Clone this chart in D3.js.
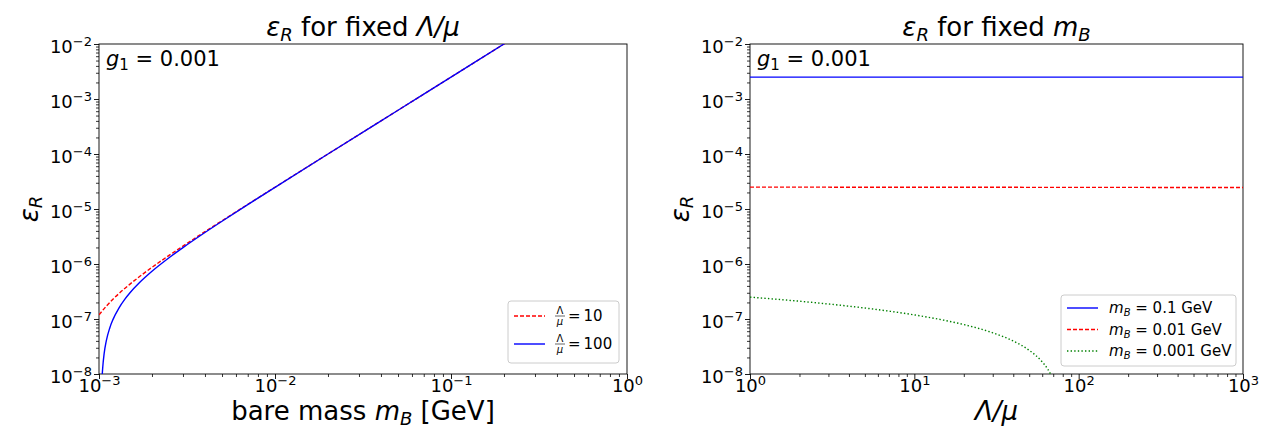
<!DOCTYPE html>
<html>
<head>
<meta charset="utf-8">
<script src="https://cdn.jsdelivr.net/npm/d3@7"></script>
<style>
body { margin: 0; background: #fff; }
svg text { font-family: "DejaVu Sans", sans-serif; fill: #000; }
</style>
</head>
<body>
<div id="chart"></div>
<script>
// Data
//= ================================
// left panel: eps_R vs bare mass m_B, for fixed Lambda/mu
var massRed = [0.001, 0.0011, 0.0012, 0.0013, 0.0015, 0.0017, 0.002, 0.0025, 0.003, 0.004, 0.005, 0.007, 0.01, 0.02, 0.05, 0.1, 0.2, 0.25];
var epsRed = [1.19e-7, 1.71e-7, 2.29e-7, 2.91e-7, 4.31e-7, 5.91e-7, 8.69e-7, 1.431e-6, 2.119e-6, 3.869e-6, 6.119e-6, 1.212e-5, 2.487e-5, 1e-4, 6.25e-4, 2.5e-3, 1e-2, 1.56e-2];

var massBlue = [0.00103, 0.00104, 0.00105, 0.00107, 0.0011, 0.00115, 0.0012, 0.0013, 0.0014, 0.0015, 0.0017, 0.002, 0.0025, 0.003, 0.004, 0.005, 0.007, 0.01, 0.02, 0.05, 0.1, 0.2, 0.25];
var epsBlue = [2.7e-9, 7.9e-9, 1.31e-8, 2.37e-8, 4.0e-8, 6.81e-8, 9.75e-8, 1.6e-7, 2.275e-7, 3.0e-7, 4.6e-7, 7.375e-7, 1.3e-6, 1.9875e-6, 3.7375e-6, 5.9875e-6, 1.1988e-5, 2.474e-5, 1e-4, 6.25e-4, 2.5e-3, 1e-2, 1.56e-2];

// right panel: eps_R vs Lambda/mu, for fixed m_B
var ratioFlat = [1, 1000];
var epsMB01 = [2.5e-3, 2.5e-3];
var epsMB001 = [2.5e-5, 2.46e-5];
var ratioGreen = [1, 2, 3, 5, 7, 10, 15, 20, 30, 40, 50, 60, 65, 70, 75];
var epsMB0001 = [2.5e-7, 2.105e-7, 1.874e-7, 1.583e-7, 1.391e-7, 1.1875e-7, 9.56e-8, 7.92e-8, 5.61e-8, 3.97e-8, 2.70e-8, 1.66e-8, 1.21e-8, 7.85e-9, 3.9e-9];

var yExponents = [-8, -7, -6, -5, -4, -3, -2];
var xLeftExponents = [-3, -2, -1, 0];
var xRightExponents = [0, 1, 2, 3];

// Setup
//= ================================
var svgWidth = 1276;
var svgHeight = 440;

var svg = d3.select("#chart")
    .append("svg")
    .attr("width", svgWidth)
    .attr("height", svgHeight);

var panelLeft = { x0: 99, x1: 627, y0: 44, y1: 374 };
var panelRight = { x0: 750, x1: 1243, y0: 44, y1: 374 };

function minorTicks(exps) {
    var out = [];
    for (var i = 0; i < exps.length - 1; i++) {
        for (var k = 2; k <= 9; k++) out.push(k * Math.pow(10, exps[i]));
    }
    return out;
}

// "10" with a superscript exponent
function powLabel(sel, e) {
    sel.text("");
    sel.append("tspan").text("10");
    sel.append("tspan")
        .attr("dy", -7)
        .attr("font-size", "13px")
        .text(e < 0 ? "\u2212" + Math.abs(e) : String(e));
}

function drawPanel(p, xExps, id) {
    var xScale = d3.scaleLog()
        .domain([Math.pow(10, xExps[0]), Math.pow(10, xExps[xExps.length - 1])])
        .range([p.x0, p.x1]);
    var yScale = d3.scaleLog()
        .domain([1e-8, 1e-2])
        .range([p.y1, p.y0]);

    var g = svg.append("g");

    svg.append("clipPath").attr("id", id)
        .append("rect")
        .attr("x", p.x0).attr("y", p.y0)
        .attr("width", p.x1 - p.x0).attr("height", p.y1 - p.y0);

    // minor ticks
    g.append("g")
        .attr("transform", `translate(0, ${p.y1})`)
        .call(d3.axisBottom(xScale).tickValues(minorTicks(xExps)).tickSize(3).tickFormat(""))
        .call(a => a.select(".domain").remove())
        .selectAll("line").attr("stroke", "#000").attr("stroke-width", 0.8);
    g.append("g")
        .attr("transform", `translate(${p.x0}, 0)`)
        .call(d3.axisLeft(yScale).tickValues(minorTicks(yExponents)).tickSize(3).tickFormat(""))
        .call(a => a.select(".domain").remove())
        .selectAll("line").attr("stroke", "#000").attr("stroke-width", 0.8);

    // major ticks
    var xAxis = g.append("g")
        .attr("transform", `translate(0, ${p.y1})`)
        .call(d3.axisBottom(xScale).tickValues(xExps.map(e => Math.pow(10, e))).tickSize(5).tickPadding(3));
    xAxis.select(".domain").remove();
    xAxis.selectAll("line").attr("stroke", "#000").attr("stroke-width", 0.9);
    xAxis.selectAll("text")
        .attr("font-size", "18px")
        .attr("dy", 10)
        .each(function (d) { powLabel(d3.select(this), Math.round(Math.log10(d))); });

    var yAxis = g.append("g")
        .attr("transform", `translate(${p.x0}, 0)`)
        .call(d3.axisLeft(yScale).tickValues(yExponents.map(e => Math.pow(10, e))).tickSize(5).tickPadding(2));
    yAxis.select(".domain").remove();
    yAxis.selectAll("line").attr("stroke", "#000").attr("stroke-width", 0.9);
    yAxis.selectAll("text")
        .attr("font-size", "18px")
        .attr("dy", 8)
        .each(function (d) { powLabel(d3.select(this), Math.round(Math.log10(d))); });

    // frame
    g.append("rect")
        .attr("x", p.x0).attr("y", p.y0)
        .attr("width", p.x1 - p.x0).attr("height", p.y1 - p.y0)
        .attr("fill", "none")
        .attr("stroke", "#000")
        .attr("stroke-width", 0.9);

    return { x: xScale, y: yScale, g: g };
}

function drawLine(panel, id, xs, ys, color, dash) {
    var pts = xs.map((x, i) => [x, ys[i]]);
    var line = d3.line()
        .x(d => panel.x(d[0]))
        .y(d => panel.y(d[1]))
        .curve(d3.curveMonotoneX);
    panel.g.append("path")
        .datum(pts)
        .attr("clip-path", `url(#${id})`)
        .attr("d", line)
        .attr("fill", "none")
        .attr("stroke", color)
        .attr("stroke-width", 1.4)
        .attr("stroke-dasharray", dash);
}

// Left panel
//= ================================
var left = drawPanel(panelLeft, xLeftExponents, "clipL");
drawLine(left, "clipL", massRed, epsRed, "#ff0000", "4,2");
drawLine(left, "clipL", massBlue, epsBlue, "#0000ff", null);

// Right panel
//= ================================
var right = drawPanel(panelRight, xRightExponents, "clipR");
drawLine(right, "clipR", ratioFlat, epsMB01, "#0000ff", null);
drawLine(right, "clipR", ratioFlat, epsMB001, "#ff0000", "4,2");
drawLine(right, "clipR", ratioGreen, epsMB0001, "#008000", "1.4,2.2");

// Titles
function epsR(t, size, shift) {
    t.append("tspan").attr("font-style", "italic").text("\u03b5");
    t.append("tspan").attr("font-style", "italic").attr("font-size", size).attr("dy", shift).text("R");
}

var t1 = svg.append("text")
    .attr("x", (panelLeft.x0 + panelLeft.x1) / 2)
    .attr("y", 36)
    .attr("text-anchor", "middle")
    .attr("font-size", "26px");
epsR(t1, "18px", 5);
t1.append("tspan").attr("dy", -5).text(" for fixed ");
t1.append("tspan").attr("font-style", "italic").text("\u039b/\u03bc");

var t2 = svg.append("text")
    .attr("x", (panelRight.x0 + panelRight.x1) / 2)
    .attr("y", 36)
    .attr("text-anchor", "middle")
    .attr("font-size", "26px");
epsR(t2, "18px", 5);
t2.append("tspan").attr("dy", -5).text(" for fixed ");
t2.append("tspan").attr("font-style", "italic").text("m");
t2.append("tspan").attr("font-style", "italic").attr("font-size", "18px").attr("dy", 5).text("B");

// Axis labels
var xl1 = svg.append("text")
    .attr("x", (panelLeft.x0 + panelLeft.x1) / 2)
    .attr("y", 420)
    .attr("text-anchor", "middle")
    .attr("font-size", "26px");
xl1.append("tspan").text("bare mass ");
xl1.append("tspan").attr("font-style", "italic").text("m");
xl1.append("tspan").attr("font-style", "italic").attr("font-size", "18px").attr("dy", 5).text("B");
xl1.append("tspan").attr("dy", -5).text(" [GeV]");

svg.append("text")
    .attr("x", (panelRight.x0 + panelRight.x1) / 2)
    .attr("y", 420)
    .attr("text-anchor", "middle")
    .attr("font-size", "26px")
    .attr("font-style", "italic")
    .text("\u039b/\u03bc");

[[38, 209], [689, 209]].forEach(function (pos) {
    var yl = svg.append("text")
        .attr("transform", `translate(${pos[0]}, ${pos[1]}) rotate(-90)`)
        .attr("text-anchor", "middle")
        .attr("font-size", "26px");
    epsR(yl, "18px", 4);
});

// g1 annotation
[[106, 66], [757, 66]].forEach(function (pos) {
    var gt = svg.append("text")
        .attr("x", pos[0]).attr("y", pos[1])
        .attr("font-size", "21px");
    gt.append("tspan").attr("font-style", "italic").text("g");
    gt.append("tspan").attr("font-size", "15px").attr("dy", 4).text("1");
    gt.append("tspan").attr("dy", -4).text(" = 0.001");
});

// Legends
//= ================================
function legendBox(x, y, w, h) {
    svg.append("rect")
        .attr("x", x).attr("y", y)
        .attr("width", w).attr("height", h)
        .attr("rx", 3)
        .attr("fill", "#fff")
        .attr("fill-opacity", 0.8)
        .attr("stroke", "#cccccc")
        .attr("stroke-width", 1);
}

function legendLine(x, y, color, dash) {
    svg.append("line")
        .attr("x1", x).attr("x2", x + 31)
        .attr("y1", y).attr("y2", y)
        .attr("stroke", color)
        .attr("stroke-width", 1.4)
        .attr("stroke-dasharray", dash);
}

var leftLegend = [["10", "#ff0000", "4,2"], ["100", "#0000ff", null]];
legendBox(508, 301, 111, 62);
leftLegend.forEach(function (d, i) {
    var y = 316 + i * 28;
    legendLine(514, y, d[1], d[2]);
    svg.append("text").attr("x", 560).attr("y", y - 2)
        .attr("text-anchor", "middle").attr("font-size", "10px").text("\u039b");
    svg.append("line").attr("x1", 555).attr("x2", 565)
        .attr("y1", y).attr("y2", y).attr("stroke", "#000").attr("stroke-width", 0.6);
    svg.append("text").attr("x", 560).attr("y", y + 9)
        .attr("text-anchor", "middle").attr("font-size", "10px").attr("font-style", "italic").text("\u03bc");
    svg.append("text").attr("x", 568).attr("y", y + 5)
        .attr("font-size", "15px").text("=\u2009" + d[0]);
});

var rightLegend = [["0.1", "#0000ff", null], ["0.01", "#ff0000", "4,2"], ["0.001", "#008000", "1.4,2.2"]];
legendBox(1061, 295, 175, 71);
rightLegend.forEach(function (d, i) {
    var y = 308 + i * 21.5;
    legendLine(1067, y, d[1], d[2]);
    var lt = svg.append("text").attr("x", 1109).attr("y", y + 5).attr("font-size", "15px");
    lt.append("tspan").attr("font-style", "italic").text("m");
    lt.append("tspan").attr("font-style", "italic").attr("font-size", "10px").attr("dy", 3).text("B");
    lt.append("tspan").attr("dy", -3).text(" = " + d[0] + " GeV");
});
</script>
</body>
</html>
